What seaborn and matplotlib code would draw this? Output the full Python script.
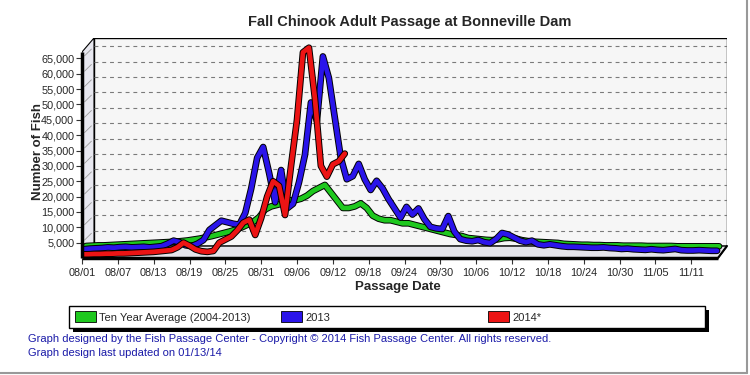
import numpy as np
import pandas as pd
import seaborn as sns
import matplotlib.pyplot as plt
import matplotlib.patheffects as pe
from matplotlib.patches import Polygon, Patch, Rectangle
from matplotlib.lines import Line2D
from matplotlib.transforms import offset_copy

# daily counts, first value is 08/01
ten_year = [
    2600, 2700, 2800, 2800, 2900, 3000, 3100, 3200, 3300, 3400,
    3500, 3600, 3700, 3800, 3900, 4000, 4200, 4400, 4700, 5000,
    5400, 5800, 6300, 6800, 7300, 7900, 8600, 9500, 10500, 12000,
    14500, 15500, 16000, 16500, 17500, 17500, 18000, 19000, 20500, 21500,
    22500, 20000, 17500, 15000, 15000, 15500, 16500, 15000, 12500, 11500,
    11000, 11000, 10500, 10000, 10000, 9500, 9000, 8500, 8000, 7500,
    7000, 6500, 6200, 5800, 5200, 5000, 4800, 4600, 4500, 4800,
    5200, 5300, 5000, 4500, 4200, 4000, 3900, 3800, 3700, 3600,
    3300, 3200, 3100, 3000, 3000, 2900, 2900, 2800, 2800, 2800,
    2700, 2700, 2700, 2700, 2600, 2600, 2600, 2600, 2600, 2500,
    2500, 2500, 2500, 2500, 2500, 2500, 2500,
]
year_2013 = [
    2200, 2400, 2500, 2600, 2800, 2700, 2900, 3000, 2800, 2900,
    3000, 2800, 3000, 3200, 4000, 5000, 4500, 3500, 3200, 4000,
    5200, 8500, 10000, 11500, 11000, 10500, 10200, 14000, 22000, 32000,
    35500, 27000, 17500, 28000, 15500, 17000, 24000, 33000, 50000, 44000,
    65000, 58000, 45000, 32000, 25000, 26000, 30000, 25000, 21500, 24500,
    22000, 18500, 15500, 12500, 16000, 13500, 15500, 12000, 9500, 9000,
    8800, 13000, 8000, 5500, 5000, 4800, 5200, 4500, 4200, 5500,
    7500, 7000, 6000, 5000, 4500, 5000, 3800, 3500, 3800, 3500,
    3200, 3000, 3000, 2900, 2800, 2700, 2700, 2800, 2600, 2500,
    2300, 2400, 2200, 2100, 2000, 2200, 2000, 1900, 2100, 2300,
    1900, 1800, 1800, 1900, 1800, 1700, 1700,
]
year_2014 = [
    1200, 1200, 1300, 1300, 1400, 1400, 1500, 1500, 1600, 1700,
    1800, 1900, 2000, 2200, 2400, 2600, 3500, 5000, 4000, 2800,
    2200, 2000, 2300, 5000, 6000, 7000, 9000, 11500, 12500, 7500,
    13000, 20000, 25000, 23500, 14000, 30000, 45000, 67000, 68500, 52000,
    30000, 26500, 30500, 31500, 34000,
]
tick_labels = ["08/01", "08/07", "08/13", "08/19", "08/25", "08/31", "09/06",
               "09/12", "09/18", "09/24", "09/30", "10/06", "10/12", "10/18",
               "10/24", "10/30", "11/05", "11/11"]
y_ticks = list(range(5000, 65001, 5000))
legend_labels = ["Ten Year Average (2004-2013)", "2013", "2014*"]
colors = ["#1ec81e", "#2a14ea", "#ec1414"]

W, H = 750, 375
YMAX = 71660
XMAX = 108.0
DX, DY = 12 / 645, 12 / 220   # depth of the 3d box, axes fraction
FR = 636 / 645                # front right corner
TF = 206 / 220                # top of the front left edge

sns.set_style("white")
plt.rcParams["font.family"] = ["Liberation Sans", "DejaVu Sans"]

fig = plt.figure(figsize=(7.5, 3.75), dpi=100)
ax = fig.add_axes([82 / W, 1 - 258 / H, 645 / W, 220 / H])
ax.set_facecolor("white")
for s in ax.spines.values():
    s.set_visible(False)

# 3d box: back wall, floor, left wall
ax.add_patch(Polygon([(DX, DY), (DX, 1), (1, 1), (1, DY)], closed=True,
                     transform=ax.transAxes, fc="#f6f6f6", ec="black", lw=1, zorder=0.5))
ax.add_patch(Polygon([(0, 0), (DX, DY), (1, DY), (FR, 0)], closed=True,
                     transform=ax.transAxes, fc="#e4e4ea", ec="black", lw=1, zorder=0.6))
ax.add_patch(Polygon([(0, 0), (0, TF), (DX, 1), (DX, DY)], closed=True,
                     transform=ax.transAxes, fc="#e8e8f0", ec="black", lw=0.8, zorder=0.6))

# dashed grid on the back wall and diagonal marks on the side wall
for v in y_ticks:
    yf = v / YMAX
    ax.plot([DX, 1], [yf + DY, yf + DY], transform=ax.transAxes, color="#7a7a7a",
            lw=0.8, ls=(0, (3.5, 3.5)), zorder=0.8)
    ax.plot([0.004, DX - 0.004], [yf + 0.012, yf + DY - 0.012], transform=ax.transAxes,
            color="#9a9a9a", lw=0.6, zorder=0.8)

# ribbons: green at the back, blue in the middle, red at the front
series = [ten_year, year_2013, year_2014]
depth_px = [4, 2, 0]
for vals, col, dp, z in zip(series, colors, depth_px, [3, 4, 5]):
    days = np.arange(len(vals))
    tr = offset_copy(ax.transData, fig=fig, x=dp, y=dp, units="dots")
    sns.lineplot(x=days, y=vals, ax=ax, color=col, linewidth=3.4, transform=tr, zorder=z,
                 solid_joinstyle="round",
                 path_effects=[pe.Stroke(linewidth=4.8, foreground="black"), pe.Normal()])

# front edges
ax.plot([0, FR], [0, 0], transform=ax.transAxes, color="black", lw=2.5, zorder=6,
        solid_capstyle="butt", clip_on=False)
ax.plot([0, 0], [0, TF], transform=ax.transAxes, color="black", lw=2.5, zorder=6,
        solid_capstyle="butt", clip_on=False)
ax.plot([FR, 1], [0, DY], transform=ax.transAxes, color="black", lw=1.5, zorder=6,
        clip_on=False)

ax.set_xlim(0, XMAX)
ax.set_ylim(0, YMAX)
ax.set_xticks(np.arange(0, 6 * len(tick_labels), 6))
ax.set_xticklabels(tick_labels)
ax.set_yticks(y_ticks)
ax.set_yticklabels([f"{v:,}" for v in y_ticks])
ax.tick_params(axis="both", which="major", labelsize=7.8, length=4, width=0.8,
               color="#333333", direction="out", pad=1.5, bottom=True, left=True)
ax.tick_params(axis="x", pad=3)
ax.set_xlabel("")
ax.set_ylabel("")

# texts
fig.text(410 / W, 1 - 22 / H, "Fall Chinook Adult Passage at Bonneville Dam",
         ha="center", va="center", fontsize=10.5, fontweight="bold")
fig.text(38 / W, 1 - 152 / H, "Number of Fish", rotation=90, ha="center", va="center",
         fontsize=9.5, fontweight="bold")
fig.text(398 / W, 1 - 287 / H, "Passage Date", ha="center", va="center",
         fontsize=9.5, fontweight="bold")

# legend box with a hard shadow, one entry per column
fig.add_artist(Rectangle((73 / W, 1 - 332 / H), 636 / W, 22 / H, transform=fig.transFigure,
                         fc="black", ec="none", zorder=1))
fig.add_artist(Rectangle((69 / W, 1 - 328 / H), 636 / W, 22 / H, transform=fig.transFigure,
                         fc="white", ec="black", lw=1, zorder=2))
for col, lab, lx in zip(colors, legend_labels, [75, 281, 488]):
    leg = fig.legend([Patch(facecolor=col, edgecolor="black", lw=0.6)], [lab],
                     loc="center left", bbox_to_anchor=(lx / W, 1 - 317 / H),
                     frameon=False, borderpad=0, borderaxespad=0, fontsize=8,
                     handlelength=1.9, handleheight=1.1, handletextpad=0.3)
    leg.set_zorder(3)

foot = "#1a1aa8"
fig.text(28 / W, 1 - 339 / H,
         "Graph designed by the Fish Passage Center - Copyright \u00a9 2014 Fish Passage Center. All rights reserved.",
         ha="left", va="center", fontsize=8, color=foot)
fig.text(28 / W, 1 - 353 / H, "Graph design last updated on 01/13/14",
         ha="left", va="center", fontsize=8, color=foot)

# outer frame of the picture
fig.add_artist(Line2D([747 / W, 747 / W], [1 - 373 / H, 1], transform=fig.transFigure,
                      color="#999999", lw=1.5))
fig.add_artist(Line2D([0, 747 / W], [1 - 373 / H, 1 - 373 / H], transform=fig.transFigure,
                      color="#999999", lw=1.5))

fig.savefig("out.png", dpi=100)
